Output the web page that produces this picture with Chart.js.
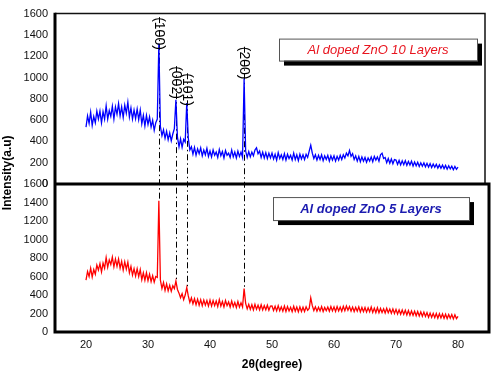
<!DOCTYPE html>
<html><head><meta charset="utf-8">
<script src="https://cdn.jsdelivr.net/npm/chart.js@4"></script>
<style>html,body{margin:0;padding:0;background:#fff}#wrap{width:494px;height:384px}</style>
</head><body><div id="wrap"><canvas id="c" width="494" height="384"></canvas></div>
<script>
const twoTheta = [
20,20.25,20.5,20.75,21,21.25,21.5,21.75,22,22.25,22.5,22.75,23,23.25,23.5,23.75,24,24.25,24.5,24.75,
25,25.25,25.5,25.75,26,26.25,26.5,26.75,27,27.25,27.5,27.75,28,28.25,28.5,28.75,29,29.25,29.5,29.75,
30,30.25,30.5,30.75,31,31.25,31.5,31.75,32,32.25,32.5,32.75,33,33.25,33.5,33.75,34,34.25,34.5,34.75,
35,35.25,35.5,35.75,36,36.25,36.5,36.75,37,37.25,37.5,37.75,38,38.25,38.5,38.75,39,39.25,39.5,39.75,
40,40.25,40.5,40.75,41,41.25,41.5,41.75,42,42.25,42.5,42.75,43,43.25,43.5,43.75,44,44.25,44.5,44.75,
45,45.25,45.5,45.75,46,46.25,46.5,46.75,47,47.25,47.5,47.75,48,48.25,48.5,48.75,49,49.25,49.5,49.75,
50,50.25,50.5,50.75,51,51.25,51.5,51.75,52,52.25,52.5,52.75,53,53.25,53.5,53.75,54,54.25,54.5,54.75,
55,55.25,55.5,55.75,56,56.25,56.5,56.75,57,57.25,57.5,57.75,58,58.25,58.5,58.75,59,59.25,59.5,59.75,
60,60.25,60.5,60.75,61,61.25,61.5,61.75,62,62.25,62.5,62.75,63,63.25,63.5,63.75,64,64.25,64.5,64.75,
65,65.25,65.5,65.75,66,66.25,66.5,66.75,67,67.25,67.5,67.75,68,68.25,68.5,68.75,69,69.25,69.5,69.75,
70,70.25,70.5,70.75,71,71.25,71.5,71.75,72,72.25,72.5,72.75,73,73.25,73.5,73.75,74,74.25,74.5,74.75,
75,75.25,75.5,75.75,76,76.25,76.5,76.75,77,77.25,77.5,77.75,78,78.25,78.5,78.75,79,79.25,79.5,79.75,
80];
// Al doped ZnO 10 layers (top panel, blue)
const layers10 = [
535,640,570,675,550,635,575,685,610,685,575,680,610,735,610,690,635,730,610,725,
655,755,640,725,625,740,665,770,630,715,610,695,615,705,605,695,565,645,545,645,
560,630,535,600,505,575,610,1320,540,455,510,430,495,415,480,405,470,520,790,440,
350,425,345,420,395,760,430,320,350,280,345,270,330,285,340,265,320,275,335,260,
310,255,320,270,300,250,325,265,305,245,315,270,290,250,320,255,300,245,310,260,
300,250,990,310,250,305,255,300,265,320,340,285,310,250,300,245,295,240,290,245,
290,235,280,225,295,240,275,230,285,225,280,240,270,225,290,230,275,220,280,235,
275,230,280,250,310,365,290,240,275,225,270,230,275,220,265,230,270,215,265,225,
265,215,260,225,270,230,275,245,290,265,315,260,285,230,265,215,260,210,255,215,
250,205,245,215,255,210,260,225,255,215,275,290,240,250,200,240,195,235,190,230,
225,185,222,180,218,182,220,176,212,178,215,170,208,172,205,165,200,168,198,162,
195,160,192,155,188,158,185,150,180,148,178,145,175,140,172,142,168,135,165,138,
158];
// Al doped ZnO 5 layers (bottom panel, red)
const layers5 = [
560,655,600,690,595,675,625,725,670,740,650,745,690,805,700,780,730,810,705,790,
710,790,690,765,670,760,680,755,640,710,615,685,605,685,600,675,565,640,560,640,
555,625,545,610,540,600,590,1420,560,470,535,450,520,445,505,440,500,470,550,460,
420,370,415,350,400,480,390,320,370,305,360,295,355,290,350,285,345,290,340,280,
345,280,340,285,335,275,350,280,330,270,340,285,325,270,335,275,320,265,330,270,
315,270,470,310,250,300,245,295,240,300,245,290,240,295,238,285,240,290,235,280,
282,232,278,228,285,230,272,226,280,222,275,228,268,220,278,224,270,218,272,222,
268,222,272,235,255,370,285,232,272,225,268,228,275,222,266,230,270,224,275,228,
272,222,275,228,270,225,278,230,282,235,275,226,270,222,268,225,272,218,265,220,
265,215,262,218,270,212,258,210,262,208,255,212,252,205,256,208,248,202,250,200,
245,195,240,192,238,190,235,185,232,182,228,180,225,175,222,172,218,170,215,168,
210,160,205,158,202,155,200,150,198,152,195,148,192,145,190,148,188,142,186,145,
170];
const seriesNames = ['Al doped ZnO 10 Layers', 'Al doped ZnO 5 Layers'];
const xTicks = [20, 30, 40, 50, 60, 70, 80];
const yTicks = [0, 200, 400, 600, 800, 1000, 1200, 1400, 1600];
const peakPositions = [31.75, 34.5, 36.25, 45.5];
const peakLabels = ['(100)', '(002)', '(101)', '(200)'];
const peakLabelBase = [1260, 800, 733, 982];
const peakLineEnd = [1420, 550, 480, 470];
const xTitle = '2\u03b8(degree)';
const yTitle = 'Intensity(a.u)';

const FONT = '"Liberation Sans", Arial, sans-serif';
function pts(ys) { return twoTheta.map((x, i) => ({ x: x, y: ys[i] })); }

const overlay = {
  id: 'overlay',
  beforeDatasetsDraw(chart) {
    const ctx = chart.ctx, xs = chart.scales.x, yt = chart.scales.yTop, yb = chart.scales.yBot;
    ctx.save();
    ctx.font = '14px ' + FONT;
    ctx.strokeStyle = '#000';
    ctx.lineWidth = 1;
    ctx.setLineDash([6, 3, 1.5, 3]);
    peakPositions.forEach((p, i) => {
      const x = Math.round(xs.getPixelForValue(p)) + 0.5;
      const w = ctx.measureText(peakLabels[i]).width;
      const y0 = yt.getPixelForValue(peakLabelBase[i]) - w;
      const y1 = yb.getPixelForValue(peakLineEnd[i]);
      ctx.beginPath(); ctx.moveTo(x, y0); ctx.lineTo(x, y1); ctx.stroke();
    });
    ctx.restore();
  },
  afterDatasetsDraw(chart) {
    const ctx = chart.ctx, a = chart.chartArea, xs = chart.scales.x, yt = chart.scales.yTop, yb = chart.scales.yBot;
    ctx.save();
    ctx.strokeStyle = '#111';
    ctx.lineWidth = 1.5;
    ctx.beginPath();
    ctx.moveTo(a.left, yt.top); ctx.lineTo(a.right - 4, yt.top); ctx.lineTo(a.right - 4, yt.bottom);
    ctx.stroke();
    ctx.strokeStyle = '#000';
    ctx.lineWidth = 3;
    ctx.beginPath();
    ctx.moveTo(a.left, yt.top - 0.75); ctx.lineTo(a.left, yb.bottom + 1.5);
    ctx.moveTo(a.left, yb.top); ctx.lineTo(a.right, yb.top);
    ctx.moveTo(a.right, yb.top - 1.5); ctx.lineTo(a.right, yb.bottom + 1.5);
    ctx.moveTo(a.left, yb.bottom); ctx.lineTo(a.right + 1.5, yb.bottom);
    ctx.stroke();
    ctx.font = '14px ' + FONT;
    ctx.fillStyle = '#000';
    peakPositions.forEach((p, i) => {
      const x = xs.getPixelForValue(p);
      const y = yt.getPixelForValue(peakLabelBase[i]);
      ctx.save(); ctx.translate(x, y); ctx.rotate(Math.PI / 2);
      ctx.textAlign = 'right'; ctx.textBaseline = 'middle';
      ctx.fillText(peakLabels[i], 0, 0);
      ctx.restore();
    });
    function box(l, t, w, h, text, font, color) {
      ctx.fillStyle = '#000'; ctx.fillRect(l + 5, t + 5, w, h);
      ctx.fillStyle = '#fff'; ctx.fillRect(l, t, w, h);
      ctx.strokeStyle = '#555'; ctx.lineWidth = 1; ctx.strokeRect(l + 0.5, t + 0.5, w, h);
      ctx.font = font; ctx.fillStyle = color; ctx.textAlign = 'center'; ctx.textBaseline = 'middle';
      ctx.fillText(text, l + w / 2, t + h / 2 + 1);
    }
    box(a.left + 224, yt.top + 25, 198, 22, seriesNames[0], 'italic 13px ' + FONT, '#e8141e');
    box(a.left + 218, yb.top + 13, 196, 23, seriesNames[1], 'italic bold 13px ' + FONT, '#1c1cb0');
    ctx.save();
    ctx.translate(8, (a.top + a.bottom) / 2);
    ctx.rotate(-Math.PI / 2);
    ctx.font = 'bold 12px ' + FONT; ctx.fillStyle = '#000'; ctx.textAlign = 'center'; ctx.textBaseline = 'middle';
    ctx.fillText(yTitle, 0, 0);
    ctx.restore();
    ctx.restore();
  }
};

const yCommon = {
  type: 'linear', position: 'left', stack: 'panels', min: 0, max: 1600,
  afterBuildTicks: s => { s.ticks = yTicks.map(v => ({ value: v })); },
  grid: { display: false, drawTicks: false },
  border: { display: false },
  ticks: { font: { family: FONT, size: 11 }, color: '#111', padding: 7, autoSkip: false, callback: v => String(v) },
  afterFit: s => { s.width = 55; }
};

new Chart(document.getElementById('c'), {
  type: 'line',
  data: {
    datasets: [
      { label: seriesNames[0], data: pts(layers10), yAxisID: 'yTop', borderColor: '#0000ff', borderWidth: 1.3, pointRadius: 0, tension: 0, fill: false },
      { label: seriesNames[1], data: pts(layers5), yAxisID: 'yBot', borderColor: '#ff0000', borderWidth: 1.3, pointRadius: 0, tension: 0, fill: false }
    ]
  },
  options: {
    responsive: false, animation: false,
    layout: { padding: { top: 8, right: 5, left: 0, bottom: 0 } },
    plugins: { legend: { display: false }, tooltip: { enabled: false } },
    scales: {
      x: {
        type: 'linear', min: 15, max: 85,
        afterBuildTicks: s => { s.ticks = xTicks.map(v => ({ value: v })); },
        grid: { display: false, drawTicks: false },
        border: { display: false },
        ticks: { font: { family: FONT, size: 11 }, color: '#111', padding: 6, maxRotation: 0, autoSkip: false, callback: v => String(v) },
        title: { display: true, text: xTitle, font: { family: FONT, size: 12, weight: 'bold' }, color: '#000', padding: { top: 0, bottom: 12 } },
        afterFit: s => { s.height = 52; }
      },
      yBot: Object.assign({}, yCommon, { stackWeight: 151 }),
      yTop: Object.assign({}, yCommon, { stackWeight: 174 })
    }
  },
  plugins: [overlay]
});
</script>
</body></html>
